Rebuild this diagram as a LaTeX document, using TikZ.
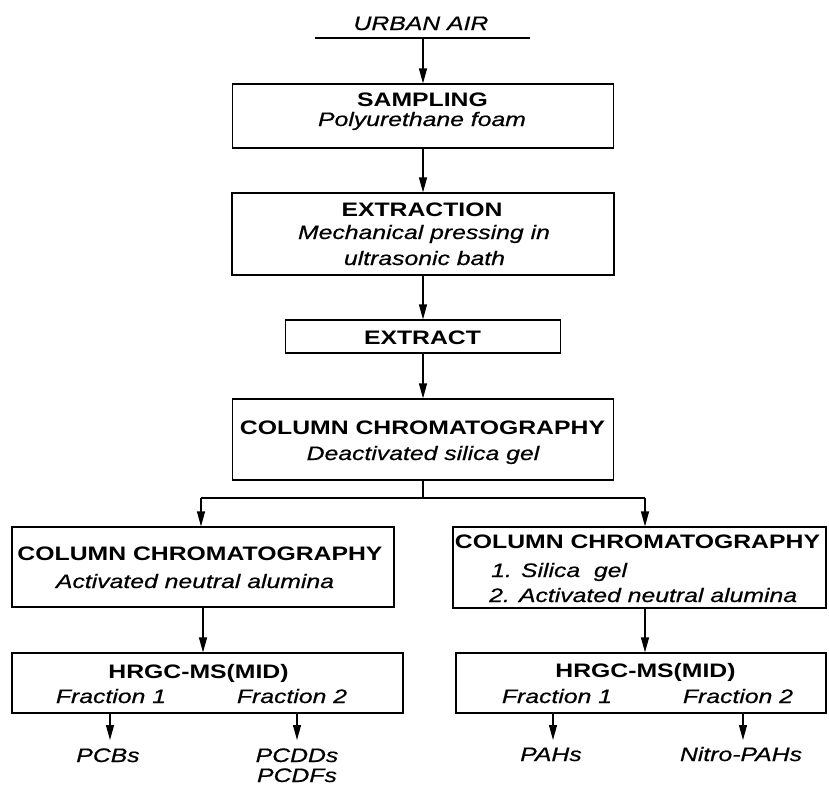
\documentclass[tikz,border=0pt]{standalone}
\usepackage{fontspec}
\setmainfont{Liberation Sans}[FakeStretch=1.27,ItalicFeatures={FakeBold=0.6}]
\usetikzlibrary{arrows.meta}
\begin{document}
\begin{tikzpicture}[x=1pt,y=-1pt,
  every node/.style={font=\fontsize{19.5}{24}\selectfont},
  box/.style={draw, line width=1.2pt, rectangle, inner sep=0pt},
  hd/.style={anchor=base, inner sep=1pt, font=\fontsize{19.5}{24}\selectfont\bfseries},
  it/.style={anchor=base, inner sep=1pt, font=\fontsize{19.5}{24}\selectfont\itshape},
  itw/.style={anchor=base west, inner sep=1pt, font=\fontsize{19.5}{24}\selectfont\itshape},
  line/.style={line width=1.2pt},
  arr/.style={line width=1.2pt, -{Triangle[length=15pt,width=8pt]}}]
\useasboundingbox (0,0) rectangle (829,785);

% top
\node[it] (urban) at (421,30) {URBAN AIR};
\coordinate (ual) at (315,38);
\coordinate (uar) at (530,38);
\coordinate (ua) at (423,38);
\draw[line] (ual) -- (uar);

\node[box, minimum width=381pt, minimum height=64pt] (sampling) at (423,116) {};
\node[hd] (samplingt) at (422.5,106) {SAMPLING};
\node[it] (samplings) at (422,126) {Polyurethane foam};

\node[box, minimum width=382pt, minimum height=82pt] (extraction) at (423,234) {};
\node[hd] (extractiont) at (422,216.5) {EXTRACTION};
\node[it] (extractions1) at (424,239) {Mechanical pressing in};
\node[it] (extractions2) at (424.5,265) {ultrasonic bath};

\node[box, minimum width=275pt, minimum height=33pt] (extract) at (423,336.5) {};
\node[hd] (extractt) at (422.5,344) {EXTRACT};

\node[box, minimum width=381pt, minimum height=81pt] (col1) at (423,439.5) {};
\node[hd] (col1t) at (422.5,434) {COLUMN CHROMATOGRAPHY};
\node[it] (col1s) at (423,460) {Deactivated silica gel};

% left branch
\node[box, minimum width=382pt, minimum height=80pt] (col2L) at (203,567) {};
\node[hd] (col2Lt) at (200,560) {COLUMN CHROMATOGRAPHY};
\node[it] (col2Ls) at (195,588) {Activated neutral alumina};

\node[box, minimum width=391pt, minimum height=60pt] (hrgcL) at (207.5,683) {};
\node[hd] (hrgcLt) at (198.5,678) {HRGC-MS(MID)};
\node[it] (f1L) at (111,703) {Fraction 1};
\node[it] (f2L) at (292,703) {Fraction 2};

\node[it] (pcbs) at (108,762) {PCBs};
\node[it] (pcdds) at (297,762) {PCDDs};
\node[it] (pcdfs) at (297,782) {PCDFs};

% right branch
\node[box, minimum width=373pt, minimum height=81pt] (col2R) at (639.5,567.5) {};
\node[hd] (col2Rt) at (637.5,548) {COLUMN CHROMATOGRAPHY};
\node[itw] (col2Rs1) at (490,577) {1. Silica\ \ gel};
\node[itw] (col2Rs2) at (488,602) {2. Activated neutral alumina};

\node[box, minimum width=370pt, minimum height=60pt] (hrgcR) at (641,683) {};
\node[hd] (hrgcRt) at (645.5,677) {HRGC-MS(MID)};
\node[it] (f1R) at (557,703) {Fraction 1};
\node[it] (f2R) at (738,703) {Fraction 2};

\node[it] (pahs) at (551,761) {PAHs};
\node[it] (npahs) at (741,761) {Nitro-PAHs};

% connectors
\draw[arr] (ua) -- (ua |- sampling.north);
\draw[arr] (sampling.south) -- (extraction.north);
\draw[arr] (extraction.south) -- (extract.north);
\draw[arr] (extract.south) -- (col1.north);

\coordinate (split) at (423,498);
\coordinate (splitL) at (201,498);
\coordinate (splitR) at (645,498);
\draw[line] (col1.south) -- (split);
\draw[line] (splitL) -- (splitR);
\draw[arr] (splitL) -- (splitL |- col2L.north);
\draw[arr] (splitR) -- (splitR |- col2R.north);

\draw[arr] (col2L.south) -- (col2L.south |- hrgcL.north);
\draw[arr] (col2R.south -| splitR) -- (hrgcR.north -| splitR);

\coordinate (aL1) at (110,740);
\coordinate (aL2) at (297,740);
\coordinate (aR1) at (553,740);
\coordinate (aR2) at (743,740);
\draw[arr] (hrgcL.south -| aL1) -- (aL1);
\draw[arr] (hrgcL.south -| aL2) -- (aL2);
\draw[arr] (hrgcR.south -| aR1) -- (aR1);
\draw[arr] (hrgcR.south -| aR2) -- (aR2);
\end{tikzpicture}
\end{document}
